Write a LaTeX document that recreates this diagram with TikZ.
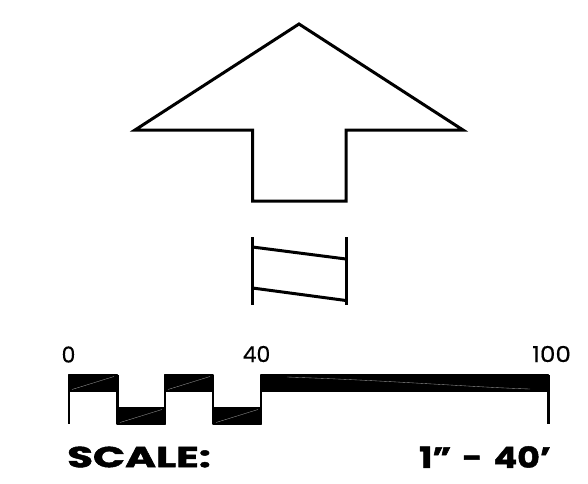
\documentclass[tikz,border=0pt]{standalone}
\usepackage{fontspec}
\setmainfont{Poppins}[FakeBold=0.3]
\newfontfamily\heavyfont[FakeBold=1.6]{Poppins Bold}
\tikzset{
  outline/.style={draw=black,line width=3pt,line join=miter},
  breakline/.style={draw=black,line width=3pt},
  bar/.style={fill=black,draw=black,line width=1.2pt,line join=round},
  sheen/.style={draw=white!60!black,line width=0.35pt},
  tick/.style={draw=black,line width=2.4pt},
  figure/.style={font=\fontsize{22}{24}\selectfont,inner sep=0pt,text=black},
  banner/.style={font=\fontsize{29}{32}\heavyfont,inner sep=0pt,text=black}
}
\begin{document}
\begin{tikzpicture}[x=1pt,y=-1pt]
\useasboundingbox (0,0) rectangle (588,483);
% north arrow
\draw[outline] (299,24) -- (463,130) -- (346,130) -- (346,201) -- (252.5,201) -- (252.5,130) -- (135,130) -- cycle;
% break symbol
\draw[breakline] (252.5,237) -- (252.5,305);
\draw[breakline] (346,237) -- (346,305);
\draw[breakline] (252.5,247) -- (346,259);
\draw[breakline] (252.5,288) -- (346,300.5);
% scale bar
\draw[tick] (68.7,375) -- (68.7,424);
\draw[tick] (548.5,375) -- (548.5,424);
\draw[tick] (117.5,375) -- (117.5,424);
\draw[tick] (165,375) -- (165,424);
\draw[tick] (213,375) -- (213,424);
\draw[tick] (261,375) -- (261,424);
\filldraw[bar] (68.5,375) rectangle (117.5,391);
\filldraw[bar] (117,408) rectangle (165.5,424);
\filldraw[bar] (164.5,375) rectangle (213,391);
\filldraw[bar] (213,408) rectangle (261.5,424);
\filldraw[bar] (261,375) rectangle (548.5,391);
\draw[sheen] (72,389.5) -- (114,376.5);
\draw[sheen] (120,422.5) -- (162,409.5);
\draw[sheen] (168,389.5) -- (210,376.5);
\draw[sheen] (216,422.5) -- (258,409.5);
\draw[sheen] (287,377) .. controls (400,381) and (470,387) .. (530,389);
% labels
\node[figure] (zero) at (68.5,354.5) {0};
\node[figure] (forty) at (256.5,354) {40};
\node[figure] (hundred) at (551.5,354) {\scalebox{1.12}[1]{100}};
\node[banner,anchor=west] (scalelabel) at (67,457) {\scalebox{1.45}[1]{SCALE:}};
\node[banner,anchor=east] (ratio) at (551,457) {\scalebox{1.2}[1]{1”\hspace{0.32em}-\hspace{0.32em}40’}};
\end{tikzpicture}
\end{document}
